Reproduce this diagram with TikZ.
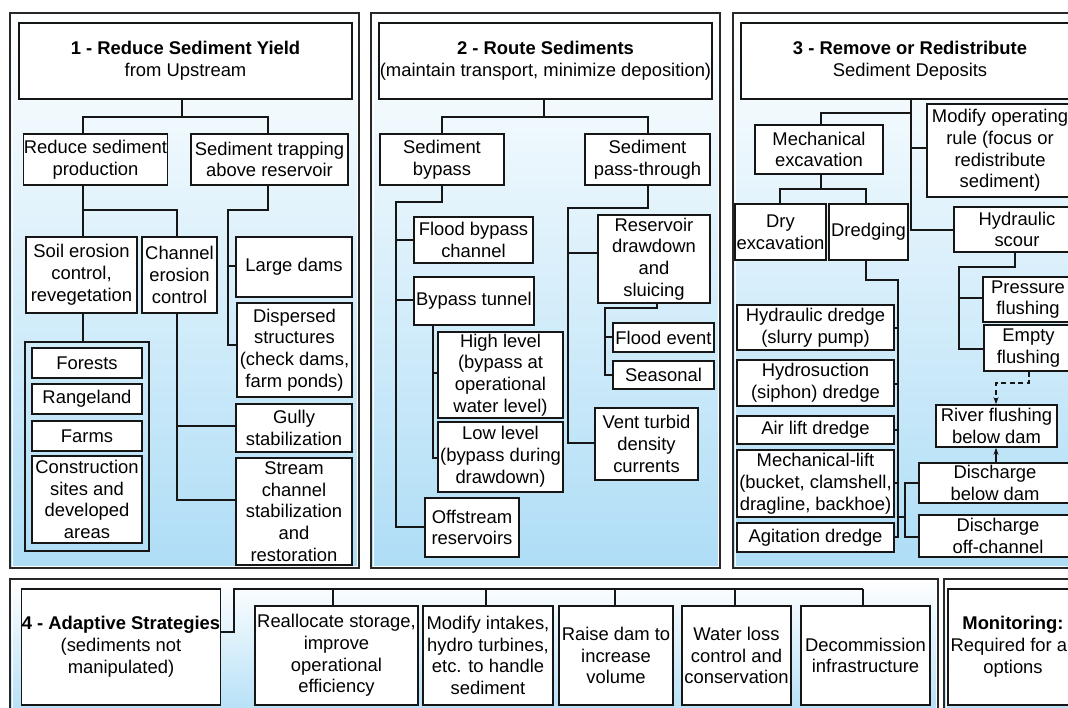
\documentclass[tikz,border=0pt]{standalone}
\usepackage{fontspec}
\setmainfont{Liberation Sans}
\usetikzlibrary{arrows.meta}
\definecolor{pbl}{RGB}{174,221,246}
\definecolor{ln}{RGB}{22,22,22}
\definecolor{fr}{RGB}{40,40,40}
\tikzset{
  box/.style={draw=ln, line width=1.6pt, fill=white, align=center, inner sep=0.3pt,
    font=\fontsize{18.4}{21.8}\selectfont, text=black},
  grpbox/.style={draw=ln, line width=1.6pt, inner sep=0pt},
  con/.style={draw=ln, line width=1.6pt},
  panelshade/.style={top color=white, bottom color=pbl},
}
\newcommand{\bx}[6]{\node[box, minimum width={(#4-#2)*1pt}, minimum height={(#5-#3)*1pt}] (#1) at ({(#2+#4)/2},{(#3+#5)/2}) {#6};}
\newcommand{\pnl}[4]{\shade[panelshade] (#1,#2) rectangle (#3,#4);
  \draw[fr, line width=2.2pt] (#1,#2) rectangle (#3,#4);
  \draw[white, line width=0.8pt] ({#1+1.9},{#2+1.9}) rectangle ({#3-1.9},{#4-1.9});}
\begin{document}
\begin{tikzpicture}[x=1pt,y=-1pt]
\useasboundingbox (0,0) rectangle (1068,707);
\clip (0,0) rectangle (1068,707);
\fill[white] (0,0) rectangle (1068,707);
% panels
\pnl{10}{13}{359}{568}
\pnl{371}{13}{720}{568}
\pnl{733}{13}{1100}{568}
\pnl{10}{579}{938}{725}
\pnl{944}{579}{1100}{725}

% ---------- panel 1
\bx{t1}{19}{23}{352}{99}{\textbf{1 - Reduce Sediment Yield}\\from Upstream}
\bx{rsp}{25}{134}{166}{185}{Reduce sediment\\production}
\bx{sta}{191}{134}{348}{185}{Sediment trapping\\above reservoir}
\bx{sec}{26}{237}{137}{313}{Soil erosion\\control,\\revegetation}
\bx{cec}{142}{237}{217}{313}{Channel\\erosion\\control}
\bx{ld}{236}{237}{352}{297}{Large dams}
\bx{ds}{237}{303}{352}{397}{Dispersed\\structures\\(check dams,\\farm ponds)}
\bx{gs}{236}{404}{352}{452}{Gully\\stabilization}
\bx{scs}{236}{458}{352}{565}{Stream\\channel\\stabilization\\and\\restoration}
\node[grpbox, minimum width=124pt, minimum height=209pt] (grp) at (87,446.5) {};
\bx{fo}{32}{348}{142}{378}{Forests}
\bx{ra}{32}{384}{142}{414}{Rangeland}
\bx{fa}{32}{421}{142}{451}{Farms}
\bx{cs}{32}{456}{142}{543}{Construction\\sites and\\developed\\areas}

\draw[con] (t1.south -| 182,0) -- (182,117);
\draw[con] (rsp.north -| 83,0) -- (83,117) -- (268,117) -- (sta.north -| 268,0);
\draw[con] (rsp.south -| 83,0) -- (sec.north -| 83,0);
\draw[con] (83,210) -- (177,210) -- (cec.north -| 177,0);
\draw[con] (sta.south -| 268,0) -- (268,210) -- (228,210) -- (228,345) -- (ds.west |- 0,345);
\draw[con] (228,266) -- (ld.west |- 0,266);
\draw[con] (sec.south -| 83,0) -- (grp.north -| 83,0);
\draw[con] (cec.south -| 177,0) -- (177,500) -- (scs.west |- 0,500);
\draw[con] (177,426) -- (gs.west |- 0,426);

% ---------- panel 2
\bx{t2}{379}{23}{712}{99}{\textbf{2 - Route Sediments}\\(maintain transport, minimize deposition)}
\bx{byp}{380}{134}{504}{185}{Sediment\\bypass}
\bx{pt}{585}{134}{710}{185}{Sediment\\pass-through}
\bx{fbc}{414}{217}{533}{263}{Flood bypass\\channel}
\bx{bt}{414}{277}{534}{325}{Bypass tunnel}
\bx{hl}{438}{332}{563}{418}{High level\\(bypass at\\operational\\water level)}
\bx{ll}{438}{422}{563}{492}{Low level\\(bypass during\\drawdown)}
\bx{osr}{425}{498}{519}{557}{Offstream\\reservoirs}
\bx{rds}{598}{215}{710}{303}{Reservoir\\drawdown\\and\\sluicing}
\bx{fe}{613}{323}{714}{352}{Flood event}
\bx{se}{613}{361}{714}{389}{Seasonal}
\bx{vt}{595}{408}{698}{480}{Vent turbid\\density\\currents}

\draw[con] (t2.south -| 544,0) -- (544,117);
\draw[con] (byp.north -| 442,0) -- (442,117) -- (648,117) -- (pt.north -| 648,0);
\draw[con] (byp.south -| 442,0) -- (442,202) -- (396,202) -- (396,527) -- (osr.west |- 0,527);
\draw[con] (396,240) -- (fbc.west |- 0,240);
\draw[con] (396,300) -- (bt.west |- 0,300);
\draw[con] (bt.south -| 433,0) -- (433,458) -- (ll.west |- 0,458);
\draw[con] (433,373) -- (hl.west |- 0,373);
\draw[con] (pt.south -| 648,0) -- (648,208) -- (568,208) -- (568,443) -- (vt.west |- 0,443);
\draw[con] (568,253) -- (rds.west |- 0,253);
\draw[con] (rds.south -| 657,0) -- (657,308) -- (605,308) -- (605,375) -- (se.west |- 0,375);
\draw[con] (605,337) -- (fe.west |- 0,337);

% ---------- panel 3
\bx{t3}{741}{23}{1079}{99}{\textbf{3 - Remove or Redistribute}\\Sediment Deposits}
\bx{me}{755}{125}{883}{174}{Mechanical\\excavation}
\bx{mor}{927}{104}{1073}{197}{Modify operating\\rule (focus or\\redistribute\\sediment)}
\bx{de}{735}{204}{826}{260}{Dry\\excavation}
\bx{dr}{829}{204}{908}{260}{Dredging}
\bx{hs}{954}{207}{1080}{252}{Hydraulic\\scour}
\bx{pf}{983}{277}{1073}{322}{Pressure\\flushing}
\bx{ef}{984}{325}{1073}{371}{Empty\\flushing}
\bx{rf}{936}{405}{1057}{447}{River flushing\\below dam}
\bx{dbd}{919}{463}{1071}{503}{Discharge\\below dam}
\bx{doc}{919}{515}{1077}{557}{Discharge\\off-channel}
\bx{hd}{737}{305}{894}{350}{Hydraulic dredge\\(slurry pump)}
\bx{hyd}{737}{360}{894}{406}{Hydrosuction\\(siphon) dredge}
\bx{ald}{737}{416}{894}{444}{Air lift dredge}
\bx{mld}{737}{450}{894}{517}{Mechanical-lift\\(bucket, clamshell,\\dragline, backhoe)}
\bx{agd}{737}{523}{894}{552}{Agitation dredge}

\draw[con] (t3.south -| 911,0) -- (911,230) -- (hs.west |- 0,230);
\draw[con] (911,113) -- (821,113) -- (me.north -| 821,0);
\draw[con] (911,148) -- (mor.west |- 0,148);
\draw[con] (me.south -| 821,0) -- (821,189);
\draw[con] (de.north -| 780,0) -- (780,189) -- (866,189) -- (dr.north -| 866,0);
\draw[con] (dr.south -| 866,0) -- (866,280) -- (898,280) -- (898,537) -- (agd.east |- 0,537);
\draw[con] (898,328) -- (hd.east |- 0,328);
\draw[con] (898,384) -- (hyd.east |- 0,384);
\draw[con] (898,430) -- (ald.east |- 0,430);
\draw[con] (898,483) -- (mld.east |- 0,483);
\draw[con] (898,517) -- (905,517);
\draw[con] (dbd.west |- 0,483) -- (905,483) -- (905,537) -- (doc.west |- 0,537);
\draw[con] (hs.south -| 1015,0) -- (1015,267) -- (959,267) -- (959,349) -- (ef.west |- 0,349);
\draw[con] (959,298) -- (pf.west |- 0,298);
\draw[con, dash pattern=on 5pt off 3.5pt, -{Stealth[length=7pt,width=5pt]}] (ef.south -| 1029,0) -- (1029,383) -- (996,383) -- (rf.north -| 996,0);
\draw[con, -{Stealth[length=7pt,width=5pt]}] (dbd.north -| 996,0) -- (rf.south -| 996,0);

% ---------- panel 4
\bx{t4}{23}{589}{219}{705}{\textbf{4 - Adaptive Strategies}\\(sediments not\\manipulated)}
\bx{ra4}{255}{606}{418}{705}{Reallocate storage,\\improve\\operational\\efficiency}
\bx{mi}{423}{606}{553}{705}{Modify intakes,\\hydro turbines,\\etc. to handle\\sediment}
\bx{rd}{559}{606}{673}{705}{Raise dam to\\increase\\volume}
\bx{wl}{682}{606}{791}{705}{Water loss\\control and\\conservation}
\bx{dc}{801}{606}{930}{705}{Decommission\\infrastructure}
\draw[con] (t4.east |- 0,632) -- (234,632) -- (234,589) -- (863,589);
\draw[con] (333,589) -- (ra4.north -| 333,0);
\draw[con] (486,589) -- (mi.north -| 486,0);
\draw[con] (615,589) -- (rd.north -| 615,0);
\draw[con] (735,589) -- (wl.north -| 735,0);
\draw[con] (863,589) -- (dc.north -| 863,0);

% ---------- monitoring
\bx{mon}{948}{589}{1078}{705}{\textbf{Monitoring:}\\Required for all\\options}
\end{tikzpicture}
\end{document}
